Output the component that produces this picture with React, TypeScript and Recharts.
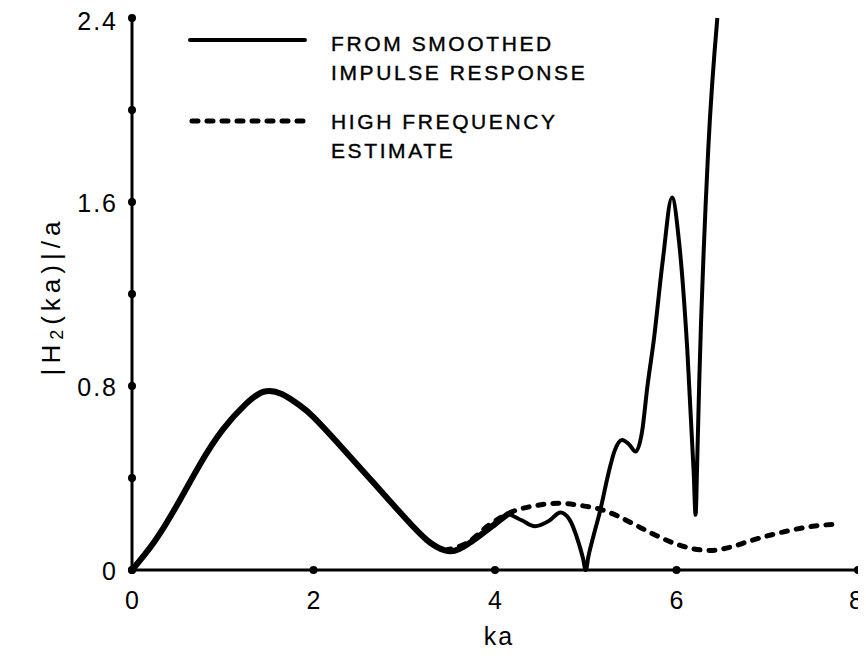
import { LineChart, Line, XAxis, YAxis, Legend } from "recharts";

const KA_THICK = [0, 0.25, 0.5, 0.75, 1.0, 1.25, 1.45, 1.65, 1.85, 2.0, 2.25, 2.5, 2.75, 3.0, 3.25, 3.45, 3.6, 3.8, 4.0, 4.15];
const H_THICK = [0, 0.125, 0.285, 0.46, 0.61, 0.72, 0.775, 0.765, 0.715, 0.665, 0.56, 0.45, 0.34, 0.23, 0.13, 0.085, 0.09, 0.14, 0.2, 0.245];

const KA_THIN = [4.15, 4.3, 4.44, 4.6, 4.72, 4.82, 4.92, 4.97, 5.0, 5.03, 5.08, 5.16, 5.25, 5.32, 5.4, 5.48, 5.55, 5.62, 5.68, 5.75, 5.85, 5.95, 6.03, 6.12, 6.19, 6.21, 6.23, 6.25, 6.35, 6.45];
const H_THIN = [0.245, 0.215, 0.19, 0.215, 0.25, 0.22, 0.12, 0.05, 0, 0.06, 0.14, 0.26, 0.42, 0.52, 0.565, 0.545, 0.515, 0.6, 0.8, 1.0, 1.35, 1.62, 1.42, 0.95, 0.42, 0.24, 0.5, 0.81, 1.83, 2.4];

const KA_HF = [3.45, 3.7, 3.95, 4.2, 4.45, 4.7, 4.95, 5.15, 5.35, 5.55, 5.75, 5.95, 6.15, 6.37, 6.6, 6.8, 7.0, 7.25, 7.5, 7.78];
const H_HF = [0.085, 0.12, 0.2, 0.255, 0.28, 0.29, 0.28, 0.265, 0.235, 0.195, 0.155, 0.12, 0.095, 0.085, 0.1, 0.125, 0.148, 0.172, 0.19, 0.2];

const X_TICKS = [0, 2, 4, 6, 8];
const Y_TICKS = [0, 0.4, 0.8, 1.2, 1.6, 2.0, 2.4];
const Y_LABELED = ["0", "0.8", "1.6", "2.4"];

const LEGEND_SMOOTHED = ["FROM SMOOTHED", "IMPULSE RESPONSE"];
const LEGEND_HF = ["HIGH FREQUENCY", "ESTIMATE"];

const thickData = KA_THICK.map((ka, i) => ({ ka, h: H_THICK[i] }));
const thinData = KA_THIN.map((ka, i) => ({ ka, h: H_THIN[i] }));
const hfData = KA_HF.map((ka, i) => ({ ka, h: H_HF[i] }));

const FONT = '"Liberation Sans", Arial, sans-serif';
const DASH = "6 9";

function XTick({ x, y, payload }: any) {
  const last = payload.value === 8;
  return (
    <g>
      <circle cx={x} cy={y} r={4} fill="#000" />
      <text x={last ? x - 2 : x} y={y + 39} textAnchor="middle" fontSize={25} fontFamily={FONT} fill="#000">
        {payload.value}
      </text>
    </g>
  );
}

function YTick({ x, y, payload }: any) {
  const label = String(payload.value);
  return (
    <g>
      <circle cx={x} cy={y} r={4} fill="#000" />
      {Y_LABELED.includes(label) && (
        <text x={x - 14} y={label === "2.4" ? y + 12 : y + 10} textAnchor="end" fontSize={25} letterSpacing={2} fontFamily={FONT} fill="#000">
          {label}
        </text>
      )}
    </g>
  );
}

function renderLegend() {
  const textProps = {
    fontSize: 21,
    letterSpacing: 2.6,
    fontFamily: FONT,
    fill: "#000",
    stroke: "#000",
    strokeWidth: 0.4,
  };
  return (
    <svg width={460} height={160}>
      <line x1={10} y1={20} x2={125} y2={20} stroke="#000" strokeWidth={4} strokeLinecap="round" />
      <text x={151} y={31} {...textProps}>{LEGEND_SMOOTHED[0]}</text>
      <text x={151} y={60} {...textProps}>{LEGEND_SMOOTHED[1]}</text>
      <line x1={12} y1={101} x2={125} y2={101} stroke="#000" strokeWidth={5} strokeDasharray={DASH} strokeLinecap="round" />
      <text x={151} y={109} {...textProps}>{LEGEND_HF[0]}</text>
      <text x={151} y={138} {...textProps}>{LEGEND_HF[1]}</text>
    </svg>
  );
}

export default function App() {
  return (
    <div style={{ width: 866, height: 661, margin: -8, position: "relative", background: "#fff" }}>
      <LineChart width={866} height={661} margin={{ top: 18, right: 8, left: 0, bottom: 0 }}>
        <XAxis
          dataKey="ka"
          type="number"
          domain={[0, 8]}
          ticks={X_TICKS}
          height={91}
          tickSize={0}
          tickMargin={0}
          tickLine={false}
          axisLine={{ stroke: "#000", strokeWidth: 3 }}
          tick={<XTick />}
          label={({ viewBox }: any) => (
            <text
              x={viewBox.x + viewBox.width / 2 + 4}
              y={viewBox.y + 75}
              textAnchor="middle"
              fontSize={25}
              letterSpacing={2}
              fontFamily={FONT}
              fill="#000"
            >
              ka
            </text>
          )}
        />
        <YAxis
          type="number"
          domain={[0, 2.4]}
          ticks={Y_TICKS}
          width={132}
          tickSize={0}
          tickMargin={0}
          tickLine={false}
          axisLine={{ stroke: "#000", strokeWidth: 3 }}
          tick={<YTick />}
          label={({ viewBox }: any) => {
            const cx = viewBox.x + 51;
            const cy = viewBox.y + viewBox.height / 2 + 2;
            return (
              <text
                x={cx}
                y={cy}
                transform={`rotate(-90 ${cx} ${cy})`}
                textAnchor="middle"
                dominantBaseline="central"
                fontSize={26}
                letterSpacing={5}
                fontFamily={FONT}
                fill="#000"
              >
                |H
                <tspan fontSize={18} dy={6}>2</tspan>
                <tspan dy={-6}>(ka)|/a</tspan>
              </text>
            );
          }}
        />
        <Legend
          layout="horizontal"
          verticalAlign="middle"
          align="center"
          wrapperStyle={{ top: 20, left: 180, width: 460, height: 160 }}
          content={renderLegend}
        />
        <Line
          data={thickData}
          dataKey="h"
          name="FROM SMOOTHED IMPULSE RESPONSE"
          type="natural"
          stroke="#000"
          strokeWidth={6}
          dot={false}
          activeDot={false}
          isAnimationActive={false}
        />
        <Line
          data={thinData}
          dataKey="h"
          name="smoothed-tail"
          legendType="none"
          type="monotone"
          stroke="#000"
          strokeWidth={4}
          dot={false}
          activeDot={false}
          isAnimationActive={false}
        />
        <Line
          data={hfData}
          dataKey="h"
          name="HIGH FREQUENCY ESTIMATE"
          type="monotone"
          stroke="#000"
          strokeWidth={5}
          strokeDasharray={DASH}
          strokeLinecap="round"
          dot={false}
          activeDot={false}
          isAnimationActive={false}
        />
      </LineChart>
    </div>
  );
}
